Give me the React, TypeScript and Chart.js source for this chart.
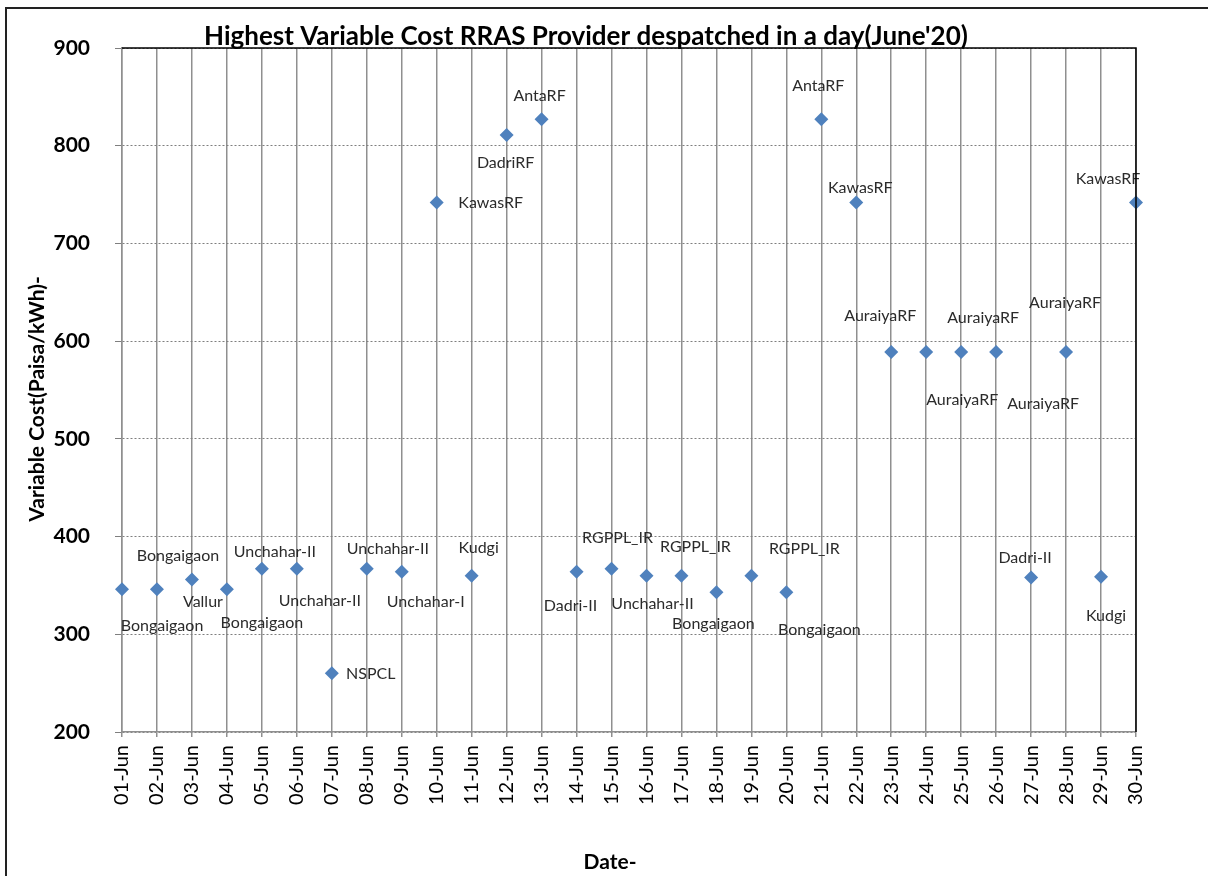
import React, { useEffect, useRef } from "react";
import { Chart, registerables } from "chart.js";

Chart.register(...registerables);

const dates = [
  "01-Jun", "02-Jun", "03-Jun", "04-Jun", "05-Jun", "06-Jun", "07-Jun", "08-Jun", "09-Jun", "10-Jun",
  "11-Jun", "12-Jun", "13-Jun", "14-Jun", "15-Jun", "16-Jun", "17-Jun", "18-Jun", "19-Jun", "20-Jun",
  "21-Jun", "22-Jun", "23-Jun", "24-Jun", "25-Jun", "26-Jun", "27-Jun", "28-Jun", "29-Jun", "30-Jun",
];

const costs = [
  346, 346, 356, 346, 367, 367, 260, 367, 364, 742,
  360, 811, 827, 364, 367, 360, 360, 343, 360, 343,
  827, 742, 589, 589, 589, 589, 358, 589, 359, 742,
];

const providers = [
  "Bongaigaon", "Bongaigaon", "Vallur", "Bongaigaon", "Unchahar-II", "Unchahar-II", "NSPCL", "Unchahar-II", "Unchahar-I", "KawasRF",
  "Kudgi", "DadriRF", "AntaRF", "Dadri-II", "RGPPL_IR", "Unchahar-II", "RGPPL_IR", "Bongaigaon", "RGPPL_IR", "Bongaigaon",
  "AntaRF", "KawasRF", "AuraiyaRF", "AuraiyaRF", "AuraiyaRF", "AuraiyaRF", "Dadri-II", "AuraiyaRF", "Kudgi", "KawasRF",
];

// data-label placement relative to each marker (pixels)
const labelOffsets: [number, number][] = [
  [40, 37], [21, -33], [11, 22], [35, 34], [13, -17], [23, 32], [39, 0], [21, -20], [24, 30], [54, 0],
  [7, -28], [-1, 28], [-2, -23], [-6, 34], [6, -31], [6, 28], [14, -29], [-3, 32], [53, -27], [33, 38],
  [-3, -33], [4, -15], [-11, -36], [36, 48], [22, -34], [47, 52], [-6, -20], [-1, -49], [5, 39], [-28, -24],
];

const yTicks = [200, 300, 400, 500, 600, 700, 800, 900];

const TITLE = "Highest Variable Cost RRAS Provider despatched in a day(June'20)";
const Y_TITLE = "Variable Cost(Paisa/kWh)-";
const X_TITLE = "Date-";

const FONT = "Lato, 'Noto Sans', sans-serif";

const decorPlugin = {
  id: "decor",
  afterDatasetsDraw(chart: any) {
    const ctx = chart.ctx;
    const meta = chart.getDatasetMeta(0);
    ctx.save();
    ctx.font = `16px ${FONT}`;
    ctx.fillStyle = "#2b2b2b";
    ctx.textAlign = "center";
    ctx.textBaseline = "middle";
    meta.data.forEach((pt: any, i: number) => {
      const off = labelOffsets[i];
      ctx.fillText(providers[i], pt.x + off[0], pt.y + off[1]);
    });
    ctx.restore();
  },
  afterDraw(chart: any) {
    const ctx = chart.ctx;
    const a = chart.chartArea;
    ctx.save();
    // plot area top & right border
    ctx.strokeStyle = "#000000";
    ctx.lineWidth = 1.5;
    ctx.beginPath();
    ctx.moveTo(a.left, a.top);
    ctx.lineTo(a.right, a.top);
    ctx.lineTo(a.right, a.bottom);
    ctx.stroke();
    // outer frame
    ctx.strokeStyle = "#222222";
    ctx.lineWidth = 2;
    ctx.beginPath();
    ctx.moveTo(6, 876);
    ctx.lineTo(6, 8);
    ctx.lineTo(1208, 8);
    ctx.stroke();
    // title
    ctx.fillStyle = "#000000";
    ctx.font = `bold 26px ${FONT}`;
    ctx.textAlign = "center";
    ctx.textBaseline = "middle";
    ctx.fillText(TITLE, 586, 37);
    // x title
    ctx.font = `bold 21px ${FONT}`;
    ctx.fillText(X_TITLE, 610, 862);
    // y title
    ctx.translate(37, 399);
    ctx.rotate(-Math.PI / 2);
    ctx.fillText(Y_TITLE, 0, 0);
    ctx.restore();
  },
};

export default function App() {
  const ref = useRef<HTMLCanvasElement | null>(null);

  useEffect(() => {
    if (!ref.current) return;
    const chart = new Chart(ref.current, {
      type: "line",
      data: {
        labels: dates,
        datasets: [
          {
            label: "Variable Cost",
            data: costs,
            showLine: false,
            pointStyle: "rectRot",
            pointRadius: 7,
            pointHoverRadius: 7,
            backgroundColor: "#4F81BD",
            borderColor: "#4F81BD",
            pointBorderWidth: 0,
          },
        ],
      },
      options: {
        responsive: false,
        animation: false,
        events: [],
        layout: { autoPadding: false, padding: { left: 0, top: 48, right: 72, bottom: 0 } },
        plugins: {
          legend: { display: false },
          title: { display: false },
          tooltip: { enabled: false },
        },
        scales: {
          x: {
            offset: false,
            afterFit: (s: any) => {
              s.height = 144;
            },
            grid: {
              color: "#8f8f8f",
              lineWidth: 1.5,
              drawTicks: true,
              tickLength: 5,
              tickColor: "#8f8f8f",
            },
            border: { color: "#8f8f8f", width: 1.5 },
            ticks: {
              autoSkip: false,
              maxRotation: 90,
              minRotation: 90,
              padding: 8,
              color: "#000000",
              font: { family: FONT, size: 20 },
            },
          },
          y: {
            min: 200,
            max: 900,
            afterFit: (s: any) => {
              s.width = 122;
            },
            afterBuildTicks: (s: any) => {
              s.ticks = yTicks.map((v) => ({ value: v }));
            },
            grid: {
              color: "#7f7f7f",
              lineWidth: 1,
              drawTicks: true,
              tickLength: 7,
              tickColor: "#7f7f7f",
              tickBorderDash: [],
            },
            border: { color: "#8f8f8f", width: 1.5, dash: [2, 2] },
            ticks: {
              padding: 25,
              color: "#000000",
              font: { family: FONT, size: 21, weight: "bold" },
            },
          },
        },
      },
      plugins: [decorPlugin],
    } as any);
    return () => chart.destroy();
  }, []);

  return (
    <div style={{ position: "absolute", left: 0, top: 0, width: 1208, height: 876, background: "#ffffff" }}>
      <canvas ref={ref} width={1208} height={876} style={{ display: "block", width: 1208, height: 876 }} />
    </div>
  );
}
